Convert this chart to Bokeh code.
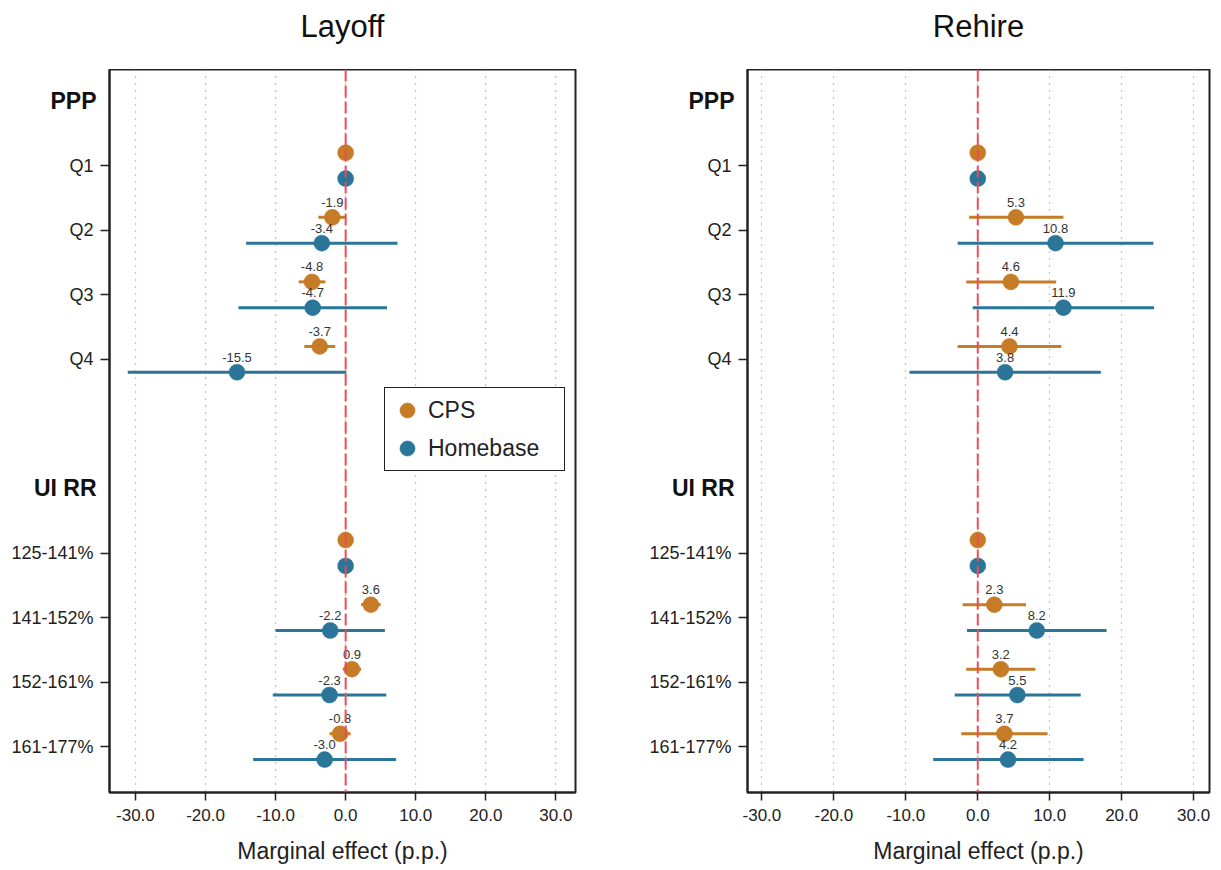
from bokeh.plotting import figure
from bokeh.models import (ColumnDataSource, FixedTicker, Range1d, Legend,
                          LegendItem, Span)
from bokeh.layouts import row, column
from bokeh.embed import file_html
from bokeh.resources import INLINE
from bokeh.core.properties import value

# ---------------- data ----------------
panel_titles = ["Layoff", "Rehire"]
section_names = ["PPP", "UI RR"]
ppp_groups = ["Q1", "Q2", "Q3", "Q4"]
uirr_groups = ["125-141%", "141-152%", "152-161%", "161-177%"]
series_names = ["CPS", "Homebase"]

x_ticks = [-30, -20, -10, 0, 10, 20, 30]
x_tick_labels = ["-30.0", "-20.0", "-10.0", "0.0", "10.0", "20.0", "30.0"]

# Layoff
layoff_cps_est = [0.0, -1.9, -4.8, -3.7, 0.0, 3.6, 0.9, -0.8]
layoff_cps_lo = [0.0, -3.9, -6.7, -5.9, 0.0, 2.2, -0.4, -2.3]
layoff_cps_hi = [0.0, 0.1, -2.9, -1.5, 0.0, 5.0, 2.2, 0.7]
layoff_hb_est = [0.0, -3.4, -4.7, -15.5, 0.0, -2.2, -2.3, -3.0]
layoff_hb_lo = [0.0, -14.2, -15.3, -31.1, 0.0, -10.0, -10.4, -13.2]
layoff_hb_hi = [0.0, 7.4, 5.9, 0.1, 0.0, 5.6, 5.8, 7.2]

# Rehire
rehire_cps_est = [0.0, 5.3, 4.6, 4.4, 0.0, 2.3, 3.2, 3.7]
rehire_cps_lo = [0.0, -1.2, -1.6, -2.8, 0.0, -2.1, -1.6, -2.3]
rehire_cps_hi = [0.0, 11.9, 10.9, 11.6, 0.0, 6.7, 8.0, 9.7]
rehire_hb_est = [0.0, 10.8, 11.9, 3.8, 0.0, 8.2, 5.5, 4.2]
rehire_hb_lo = [0.0, -2.8, -0.7, -9.5, 0.0, -1.5, -3.2, -6.2]
rehire_hb_hi = [0.0, 24.4, 24.5, 17.1, 0.0, 17.9, 14.3, 14.7]

# ---------------- layout helpers ----------------
FONT = "Liberation Sans"
CPS_COLOR = "#C67B26"
HB_COLOR = "#2A7598"
TOP, BOTTOM, FRAME_H = 69, 78, 723
AXIS_W = 10
TITLE_BASELINE = 26
groups_by_section = [ppp_groups, uirr_groups]

header_pos = []
group_pos = []
group_labels = []
is_ref = []
base = 0
for name, grp in zip(section_names, groups_by_section):
    header_pos.append(base)
    for k, g in enumerate(grp):
        group_pos.append(base + 1 + k)
        group_labels.append(g)
        is_ref.append(k == 0)
    base += len(grp) + 2

OFFSET = 0.2


def make_title_strip(text, strip_w, cx):
    """Strip above a panel that carries the panel title."""
    t = figure(frame_width=strip_w, frame_height=TOP, min_border=0,
               x_range=Range1d(0, strip_w), y_range=Range1d(0, TOP),
               x_axis_type=None, y_axis_type=None,
               output_backend="svg", toolbar_location=None,
               background_fill_color="white", border_fill_color="white")
    t.outline_line_color = None
    t.grid.visible = False
    t.text(x=[cx], y=[TOP - TITLE_BASELINE], text=[text], text_align="center",
           text_baseline="alphabetic", text_font=value(FONT),
           text_font_size="31px", text_color="#111111")
    return t


def make_label_strip(yr, strip_w):
    """Narrow figure holding the y-axis category texts (shares the y range)."""
    s = figure(frame_width=strip_w, frame_height=FRAME_H,
               min_border_left=0, min_border_right=0,
               min_border_top=0, min_border_bottom=BOTTOM,
               x_range=Range1d(0, strip_w), y_range=yr,
               x_axis_type=None, y_axis_type=None,
               output_backend="svg", toolbar_location=None,
               background_fill_color="white", border_fill_color="white")
    s.outline_line_color = None
    s.grid.visible = False
    gsrc = ColumnDataSource(dict(x=[strip_w] * len(group_pos), y=group_pos,
                                 t=group_labels))
    s.text(x="x", y="y", text="t", source=gsrc, x_offset=-6,
           text_align="right", text_baseline="middle",
           text_font=value(FONT), text_font_size="18px", text_color="#222222")
    hsrc = ColumnDataSource(dict(x=[strip_w] * len(header_pos), y=header_pos,
                                 t=section_names))
    s.text(x="x", y="y", text="t", source=hsrc, x_offset=-3,
           text_align="right", text_baseline="middle",
           text_font=value(FONT), text_font_size="23px",
           text_font_style="bold", text_color="#111111")
    return s


def make_panel(cps, hb, xr, yr, mbr, fw, with_legend):
    p = figure(frame_width=fw, frame_height=FRAME_H,
               min_border_left=AXIS_W, min_border_right=mbr,
               min_border_top=0, min_border_bottom=BOTTOM,
               x_range=Range1d(*xr), y_range=yr,
               output_backend="svg", toolbar_location=None,
               background_fill_color="white", border_fill_color="white")

    p.outline_line_color = "#222222"
    p.outline_line_width = 2

    # grid
    p.ygrid.visible = False
    p.xgrid.ticker = FixedTicker(ticks=x_ticks)
    p.xgrid.grid_line_color = "#8c8c8c"
    p.xgrid.grid_line_dash = "1 6"
    p.xgrid.grid_line_width = 1.3

    # x axis
    xa = p.xaxis[0]
    xa.ticker = FixedTicker(ticks=x_ticks)
    xa.major_label_overrides = {t: l for t, l in zip(x_ticks, x_tick_labels)}
    xa.axis_label = "Marginal effect (p.p.)"
    xa.axis_label_text_font = FONT
    xa.axis_label_text_font_size = "23px"
    xa.axis_label_text_font_style = "normal"
    xa.axis_label_text_color = "#222222"
    xa.axis_label_standoff = 14
    xa.major_label_text_font = FONT
    xa.major_label_text_font_size = "17px"
    xa.major_label_text_color = "#222222"
    xa.major_label_standoff = 8
    xa.major_tick_out = 8
    xa.major_tick_in = 0
    xa.minor_tick_out = 0
    xa.minor_tick_in = 0
    xa.axis_line_width = 2
    xa.axis_line_color = "#222222"
    xa.major_tick_line_width = 1.5
    xa.major_tick_line_color = "#222222"

    # y axis: ticks only, texts live in the label strip
    ya = p.yaxis[0]
    ya.ticker = FixedTicker(ticks=group_pos)
    ya.major_label_overrides = {t: "" for t in group_pos}
    ya.major_label_standoff = 0
    ya.major_label_text_font_size = "1px"
    ya.major_tick_out = 9
    ya.major_tick_in = 0
    ya.minor_tick_out = 0
    ya.minor_tick_in = 0
    ya.axis_line_width = 2
    ya.axis_line_color = "#222222"
    ya.major_tick_line_width = 1.5
    ya.major_tick_line_color = "#222222"

    # zero line
    p.add_layout(Span(location=0, dimension="height", line_color="#EC4D56",
                      line_dash="12 4", line_width=2))

    renderers = []
    for (est, lo, hi), off, color in ((cps, -OFFSET, CPS_COLOR), (hb, OFFSET, HB_COLOR)):
        ys = [g + off for g in group_pos]
        labs = ["" if r else f"{e:.1f}" for e, r in zip(est, is_ref)]
        src = ColumnDataSource(dict(y=ys, est=est, lo=lo, hi=hi, lab=labs))
        p.segment(x0="lo", x1="hi", y0="y", y1="y", source=src,
                  line_color=color, line_width=3)
        r = p.scatter(x="est", y="y", source=src, size=16, fill_color=color,
                      line_color=color, line_width=0.5)
        p.text(x="est", y="y", text="lab", source=src, text_align="center",
               text_baseline="middle", y_offset=-15, text_font=value(FONT),
               text_font_size="13px", text_color="#333333")
        renderers.append(r)

    if with_legend:
        legend = Legend(items=[LegendItem(label=n, renderers=[r])
                               for n, r in zip(series_names, renderers)],
                        location=(275, 321))
        legend.label_text_font = FONT
        legend.label_text_font_size = "23px"
        legend.label_text_color = "#222222"
        legend.glyph_width = 38
        legend.glyph_height = 38
        legend.label_height = 38
        legend.label_width = 133
        legend.label_standoff = 2
        legend.spacing = 0
        legend.padding = 3
        legend.margin = 0
        legend.border_line_color = "#222222"
        legend.border_line_alpha = 1.0
        legend.border_line_width = 1.5
        legend.background_fill_color = "white"
        legend.background_fill_alpha = 1.0
        p.add_layout(legend, "center")
    return p


# panel geometry (pixels)
L1, FW1, R1 = 99, 466, 45
L2, FW2, R2 = 117, 462, 12

yr1 = Range1d(10.71, -0.49)
yr2 = Range1d(10.71, -0.49)

t1 = make_title_strip(panel_titles[0], L1 + AXIS_W + FW1 + R1, L1 + AXIS_W + FW1 / 2)
t2 = make_title_strip(panel_titles[1], L2 + AXIS_W + FW2 + R2, L2 + AXIS_W + FW2 / 2)
s1 = make_label_strip(yr1, L1)
p1 = make_panel((layoff_cps_est, layoff_cps_lo, layoff_cps_hi),
                (layoff_hb_est, layoff_hb_lo, layoff_hb_hi),
                (-33.7, 32.8), yr1, R1, FW1, True)
s2 = make_label_strip(yr2, L2)
p2 = make_panel((rehire_cps_est, rehire_cps_lo, rehire_cps_hi),
                (rehire_hb_est, rehire_hb_lo, rehire_hb_hi),
                (-32.0, 32.2), yr2, R2, FW2, False)

layout = column(row(t1, t2), row(s1, p1, s2, p2))
open("out.html", "w").write(file_html(layout, INLINE))
